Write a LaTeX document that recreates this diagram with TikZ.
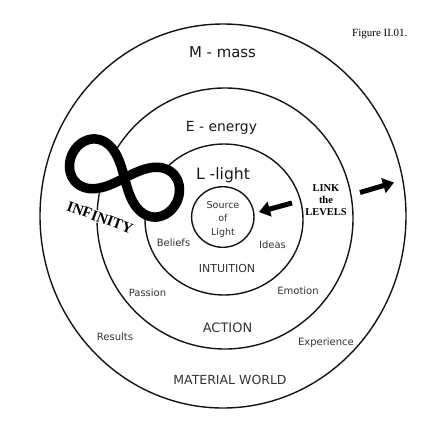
\documentclass[tikz,border=0pt]{standalone}
\usepackage{fontspec}
\setmainfont{DejaVu Sans}
\newfontfamily\timesf{Liberation Serif}
\usetikzlibrary{arrows.meta}
\begin{document}
\begin{tikzpicture}[x=1pt,y=-1pt,
  ring/.style={line width=1.4pt, draw=black!92},
  big/.style={inner sep=0pt, anchor=base, text=black!90},
  lab/.style={inner sep=0pt, anchor=base, text=black!80, font=\fontsize{10}{12}\selectfont},
  serifbold/.style={inner sep=0pt, anchor=base, font=\timesf\bfseries\fontsize{10.5}{12}\selectfont},
  fatarrow/.style={line width=5pt, -{Triangle[length=11pt,width=15pt]}}]
\useasboundingbox[fill=white] (0,0) rectangle (440,440);
% rings
\draw[ring] (223,216) ellipse [x radius=183, y radius=192];
\draw[ring] (225,218.5) ellipse [x radius=128, y radius=130.5];
\draw[ring] (224,219.5) ellipse [x radius=79, y radius=75.5];
\draw[ring] (222.8,217) ellipse [x radius=31.2, y radius=30.3];
% infinity label
\node[fill=white, inner sep=1pt, rotate=-20, font=\timesf\bfseries\fontsize{15}{16}\selectfont] (inf) at (100,217.5) {INFINITY};
% infinity sign
\draw[line width=9.5pt, fill=white, line join=round]
  plot[domain=0:360, samples=181, smooth, variable=\t]
  ({124.5 + 0.9135*(57.5*cos(\t)/(1+sin(\t)*sin(\t))) - 0.4067*(71*sin(\t)*cos(\t)/(1+sin(\t)*sin(\t)))},
   {178 + 0.4067*(57.5*cos(\t)/(1+sin(\t)*sin(\t))) + 0.9135*(71*sin(\t)*cos(\t)/(1+sin(\t)*sin(\t)))}) -- cycle;
% labels
\node[big, font=\fontsize{14.9}{16}\selectfont] (mass) at (222.5,57.7) {M - mass};
\node[big, font=\fontsize{13.9}{16}\selectfont] (energy) at (221.5,131) {E - energy};
\node[big, font=\fontsize{15.6}{16}\selectfont] (light) at (223,179.3) {L -light};
\node[lab, font=\fontsize{9.5}{12}\selectfont] (src1) at (223,208.5) {Source};
\node[lab, font=\fontsize{9.5}{12}\selectfont] (src2) at (223,221.8) {of};
\node[lab, font=\fontsize{9.5}{12}\selectfont] (src3) at (223,235) {Light};
\node[lab] (beliefs) at (173.5,246.5) {Beliefs};
\node[lab] (ideas) at (272.5,248) {Ideas};
\node[lab, font=\fontsize{11}{12}\selectfont] (intuition) at (227,272.3) {INTUITION};
\node[lab] (passion) at (147.5,296) {Passion};
\node[lab] (emotion) at (298,294.3) {Emotion};
\node[lab, font=\fontsize{13}{14}\selectfont] (action) at (227.5,332.7) {ACTION};
\node[lab] (results) at (115,340.7) {Results};
\node[lab] (experience) at (326,345.3) {Experience};
\node[lab, font=\fontsize{12.5}{14}\selectfont] (material) at (230,384.7) {MATERIAL WORLD};
\node[inner sep=0pt, anchor=base west, font=\timesf\fontsize{11}{12}\selectfont] (fig) at (352,36.7) {Figure II.01.};
\node[serifbold] (link1) at (326,191.7) {LINK};
\node[serifbold] (link2) at (326,203.3) {the};
\node[serifbold] (link3) at (326,215) {LEVELS};
% arrows
\coordinate (a1s) at (292,203);
\coordinate (a1e) at (259,212);
\coordinate (a2s) at (360,192.5);
\coordinate (a2e) at (394,182.5);
\draw[fatarrow] (a1s) -- (a1e);
\draw[fatarrow] (a2s) -- (a2e);
\end{tikzpicture}
\end{document}
